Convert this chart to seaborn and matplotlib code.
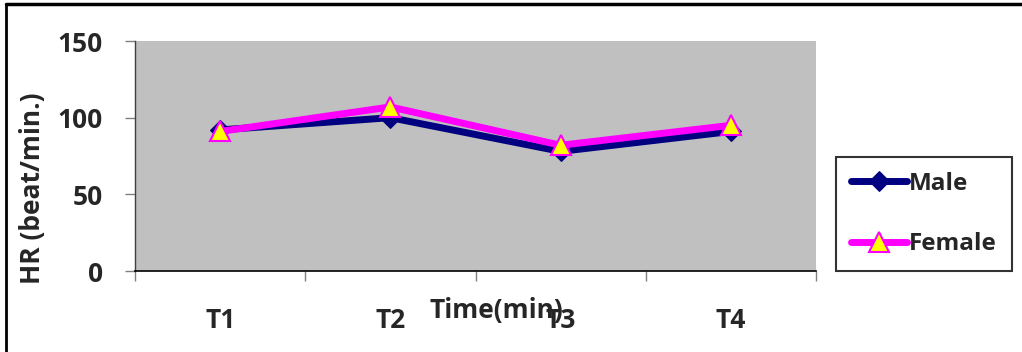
import pandas as pd
import matplotlib
matplotlib.use('Agg')
import matplotlib.pyplot as plt
import seaborn as sns
from matplotlib.lines import Line2D

# values
times = ['T1', 'T2', 'T3', 'T4']
male_hr = [92, 100, 78, 91]
female_hr = [91, 107, 82, 95]

df = pd.DataFrame({
    'time': times * 2,
    'hr': male_hr + female_hr,
    'sex': ['Male'] * 4 + ['Female'] * 4,
})

sns.set_style('white')
plt.rcParams['font.family'] = ['Open Sans', 'DejaVu Sans']
plt.rcParams['font.weight'] = 'bold'

FS = 19

fig = plt.figure(figsize=(10.22, 3.52), dpi=100)
ax = fig.add_axes([135 / 1022, 81 / 352, 681 / 1022, 230 / 352])
ax.set_facecolor('#C0C0C0')

sns.lineplot(data=df[df['sex'] == 'Male'], x='time', y='hr', ax=ax,
             color='#000080', linewidth=5, marker='D', markersize=10,
             markerfacecolor='#000080', markeredgecolor='#000080',
             label='Male', sort=False)
sns.lineplot(data=df[df['sex'] == 'Female'], x='time', y='hr', ax=ax,
             color='#FF00FF', linewidth=5, marker='^', markersize=15,
             markerfacecolor='#FFFF00', markeredgecolor='#FF00FF',
             markeredgewidth=1.5, label='Female', sort=False)

ax.set_xlim(-0.5, 3.5)
ax.set_ylim(0, 150)
ax.set_yticks([0, 50, 100, 150])
ax.set_xticks(range(4))
ax.set_xticklabels(times)
ax.set_xticks([-0.5, 0.5, 1.5, 2.5, 3.5], minor=True)

ax.tick_params(axis='y', which='major', left=True, length=7, width=1,
               color='#808080', labelsize=FS, pad=16)
ax.tick_params(axis='x', which='major', bottom=True, length=0,
               labelsize=FS, pad=26)
ax.tick_params(axis='x', which='minor', bottom=True, length=7, width=1,
               color='#808080')
for lab in ax.get_xticklabels() + ax.get_yticklabels():
    lab.set_fontweight('bold')

for side in ['top', 'right']:
    ax.spines[side].set_visible(False)
ax.spines['left'].set_color('#404040')
ax.spines['left'].set_linewidth(1)
ax.spines['bottom'].set_color('black')
ax.spines['bottom'].set_linewidth(1.2)

ax.set_xlabel('Time(min)', fontsize=FS, fontweight='bold')
ax.xaxis.label.set_va('center')
ax.xaxis.set_label_coords(0.530, -0.17)
ax.set_ylabel('HR (beat/min.)', fontsize=FS, fontweight='bold')
ax.yaxis.label.set_va('center')
ax.yaxis.set_label_coords(-0.150, 0.36)

leg = ax.legend(loc='center', bbox_to_anchor=(924 / 1022, 1 - 214 / 352),
                bbox_transform=fig.transFigure, fontsize=17.5, frameon=True,
                fancybox=False, handlelength=2.3, handletextpad=0.1,
                labelspacing=1.5, borderpad=0.6, borderaxespad=0)
leg.get_frame().set_edgecolor('black')
leg.get_frame().set_linewidth(1.5)
for t in leg.get_texts():
    t.set_fontweight('bold')

# outer chart border (left and top edges visible in the reference)
fig.add_artist(Line2D([6 / 1022, 6 / 1022], [0, 1 - 4 / 352],
                      transform=fig.transFigure, color='black', linewidth=2))
fig.add_artist(Line2D([6 / 1022, 1], [1 - 4 / 352, 1 - 4 / 352],
                      transform=fig.transFigure, color='black', linewidth=2.5))

fig.savefig('out.png', dpi=100)
